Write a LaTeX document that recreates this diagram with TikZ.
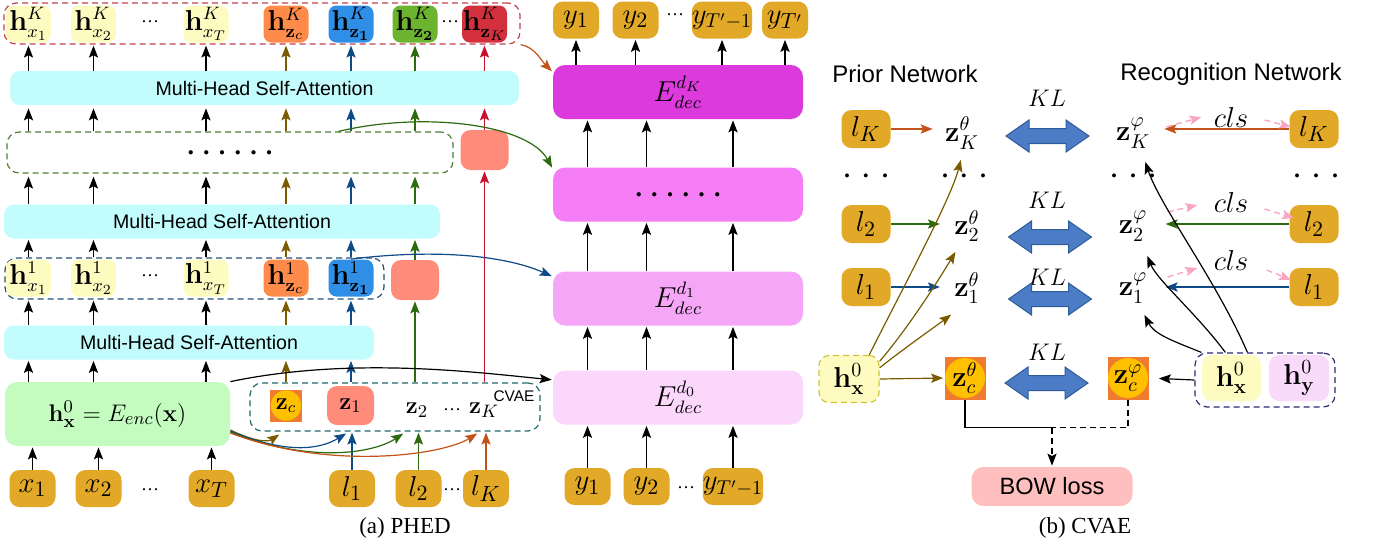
\documentclass[tikz,border=0pt]{standalone}
\usepackage{amsmath, amssymb}
\usepackage{bm}
\usepackage[no-math]{fontspec}
\setmainfont{Liberation Serif}
\setsansfont{Liberation Sans}
\usetikzlibrary{arrows.meta, calc}

\definecolor{hxc}{HTML}{FEFBC1}
\definecolor{orgc}{HTML}{FF8B4A}
\definecolor{bluc}{HTML}{2F8FE6}
\definecolor{grnc}{HTML}{6CB330}
\definecolor{redc}{HTML}{D3303E}
\definecolor{salc}{HTML}{FF8C7A}
\definecolor{mhc}{HTML}{C2FCFD}
\definecolor{encc}{HTML}{C4FCC0}
\definecolor{goldc}{HTML}{E2A827}
\definecolor{dKc}{HTML}{DC3ADC}
\definecolor{ddc}{HTML}{F57EF7}
\definecolor{d1c}{HTML}{F6A6F7}
\definecolor{d0c}{HTML}{FBD7FB}
\definecolor{zsqc}{HTML}{EE7B30}
\definecolor{zcirc}{HTML}{FFC000}
\definecolor{klc}{HTML}{4B7CC5}
\definecolor{kld}{HTML}{2E5C9A}
\definecolor{bowc}{HTML}{FFBFBF}
\definecolor{hyc}{HTML}{FADAFA}
\definecolor{brn}{HTML}{7A5B00}
\definecolor{blu}{HTML}{0F4A88}
\definecolor{grn}{HTML}{2D6A0E}
\definecolor{redl}{HTML}{C6102E}
\definecolor{orn}{HTML}{C2521A}
\definecolor{pnk}{HTML}{F8A6C4}
\definecolor{rowKc}{HTML}{C0404E}
\definecolor{lvlc}{HTML}{4E7E32}
\definecolor{row1c}{HTML}{234E78}
\definecolor{cvaec}{HTML}{20696B}
\definecolor{ydash}{HTML}{CFC53A}
\definecolor{pboxc}{HTML}{2D2873}

\tikzset{
  arr/.style={-{Stealth[length=6pt,width=4.6pt,inset=1.2pt]}, line width=0.6pt, shorten >=0.5pt},
  hbox/.style={rounded corners=4pt, inner sep=0pt, minimum width=22.5pt, minimum height=18.5pt, font=\fontsize{13.5}{13.5}\selectfont},
  gold/.style={rounded corners=5pt, fill=goldc, inner sep=0pt, minimum width=23pt, minimum height=18.5pt, font=\fontsize{15}{15}\selectfont},
  sal/.style={rounded corners=5pt, fill=salc, minimum width=24pt, minimum height=20pt, inner sep=0pt},
  mhsa/.style={rounded corners=5pt, fill=mhc, minimum height=17pt, inner sep=0pt, font=\sffamily\fontsize{9.8}{10}\selectfont},
  dbox/.style={dash pattern=on 3pt off 2pt, rounded corners=6pt, line width=0.6pt, inner sep=0pt},
  dec/.style={rounded corners=6pt, minimum width=125pt, minimum height=27pt, inner sep=0pt, font=\fontsize{13.5}{13.5}\selectfont},
  sdots/.style={inner sep=0pt, font=\fontsize{9}{9}\selectfont},
  tdots/.style={inner sep=0pt, font=\bfseries\fontsize{12}{12}\selectfont},
  zsq/.style={fill=zsqc, inner sep=0pt, path picture={\fill[zcirc] (path picture bounding box.center) circle[radius=#1];}},
  zlab/.style={inner sep=1pt, font=\fontsize{14.5}{14.5}\selectfont},
  lab/.style={inner sep=1pt, font=\fontsize{13}{13}\selectfont},
  net/.style={inner sep=0pt, font=\sffamily\fontsize{12}{12}\selectfont},
  capt/.style={inner sep=0pt, font=\fontsize{11.5}{12}\selectfont},
  klar/.style={fill=klc, draw=kld, line width=0.5pt},
  pinkarr/.style={-{Stealth[length=6pt,width=4.6pt,inset=1.2pt]}, pnk, dash pattern=on 3pt off 2pt, line width=0.7pt},
}

\newcommand{\lvldots}{{\bfseries\fontsize{13}{13}\selectfont .\hspace{4.6pt}.\hspace{4.6pt}.\hspace{4.6pt}.\hspace{4.6pt}.\hspace{4.6pt}.}}
\newcommand{\tridots}{.\hspace{6.5pt}.\hspace{6.5pt}.}
\newcommand{\klarrow}[1]{\path[klar] (#1) +(-41.5,0) -- +(-18.5,-16) -- +(-18.5,-7.5) -- +(18.5,-7.5) -- +(18.5,-16) -- +(41.5,0) -- +(18.5,16) -- +(18.5,7.5) -- +(-18.5,7.5) -- +(-18.5,16) -- cycle;}

\begin{document}
\begin{tikzpicture}[x=0.5pt, y=-0.5pt]
\useasboundingbox (0,0) rectangle (1375,548);

% (a) encoder stack
\node[dbox, draw=rowKc, minimum width=258pt, minimum height=20.5pt] (rowK) at (262,23.5) {};
\node[hbox, fill=hxc] (hK1) at (28.5,24) {$\mathbf{h}^K_{x_1}$};
\node[hbox, fill=hxc] (hK2) at (93.5,24) {$\mathbf{h}^K_{x_2}$};
\node[sdots] (dK1) at (150,22) {\ldots};
\node[hbox, fill=hxc] (hKT) at (206,24) {$\mathbf{h}^K_{x_T}$};
\node[hbox, fill=orgc] (hKc) at (286,24) {$\mathbf{h}^K_{\mathbf{z}_c}$};
\node[hbox, fill=bluc] (hKz1) at (351,24) {$\mathbf{h}^K_{\mathbf{z_1}}$};
\node[hbox, fill=grnc] (hKz2) at (415,24) {$\mathbf{h}^K_{\mathbf{z_2}}$};
\node[sdots] (dK2) at (450,22) {\ldots};
\node[hbox, fill=redc] (hKzK) at (484.5,24) {$\mathbf{h}^K_{\mathbf{z}_K}$};

\node[mhsa, minimum width=254.5pt] (mh1) at (264.5,88) {Multi-Head Self-Attention};
\node[dbox, draw=lvlc, minimum width=223pt, minimum height=20.5pt] (lvl) at (230,152.5) {\lvldots};
\node[sal] (sal2) at (484.5,150) {};
\node[mhsa, minimum width=218pt] (mh2) at (222,221.5) {Multi-Head Self-Attention};

\node[dbox, draw=row1c, minimum width=189.5pt, minimum height=20.5pt] (row1) at (194.5,278.5) {};
\node[hbox, fill=hxc] (h11) at (28.5,278) {$\mathbf{h}^1_{x_1}$};
\node[hbox, fill=hxc] (h12) at (93.5,278) {$\mathbf{h}^1_{x_2}$};
\node[sdots] (d11) at (150,276) {\ldots};
\node[hbox, fill=hxc] (h1T) at (206,278) {$\mathbf{h}^1_{x_T}$};
\node[hbox, fill=orgc] (h1c) at (286,278) {$\mathbf{h}^1_{\mathbf{z}_c}$};
\node[hbox, fill=bluc] (h1z) at (351,278) {$\mathbf{h}^1_{\mathbf{z_1}}$};
\node[sal] (sal1) at (415,280) {};
\node[mhsa, minimum width=185pt] (mh3) at (189,342.5) {Multi-Head Self-Attention};

\node[rounded corners=6pt, fill=encc, minimum width=112.5pt, minimum height=32pt, font=\fontsize{13}{13}\selectfont] (enc) at (117.5,414) {$\mathbf{h}^0_{\mathbf{x}} = E_{enc}(\mathbf{x})$};
\node[dbox, draw=cvaec, minimum width=145pt, minimum height=24pt] (cvae) at (395,407) {};
\node[inner sep=0pt, font=\sffamily\fontsize{7.7}{8}\selectfont] (cvl) at (514,396) {CVAE};
\node[zsq=7.6pt, minimum size=16pt, font=\fontsize{11.5}{11.5}\selectfont] (zcs) at (286,405.5) {$\mathbf{z}_c$};
\node[sal, minimum width=23.5pt, minimum height=19.5pt, font=\fontsize{13}{13}\selectfont] (z1s) at (350.5,405.5) {$\mathbf{z}_1$};
\node[inner sep=1pt, font=\fontsize{13}{13}\selectfont] (z2s) at (417,410) {$\mathbf{z}_2$};
\node[sdots] (dzs) at (452,410) {\ldots};
\node[inner sep=1pt, font=\fontsize{13}{13}\selectfont] (zKs) at (484,410) {$\mathbf{z}_K$};

\node[gold] (x1) at (32.5,488.5) {$x_1$};
\node[gold] (x2) at (98.5,488.5) {$x_2$};
\node[sdots] (dx) at (150,490) {\ldots};
\node[gold] (xT) at (211.5,488.5) {$x_T$};
\node[gold] (l1) at (352,488.5) {$l_1$};
\node[gold] (l2) at (418.5,488.5) {$l_2$};
\node[sdots] (dl) at (452,490) {\ldots};
\node[gold] (lK) at (486,488.5) {$l_K$};
\node[capt] (capa) at (405,528) {(a) PHED};

\foreach \n/\col in {hK1/black, hK2/black, hKT/black, hKc/brn, hKz1/blu, hKz2/grn, hKzK/redl}
  \draw[arr, \col] (mh1.north -| \n) -- (rowK.south -| \n);
\foreach \n/\col in {hK1/black, hK2/black, hKT/black, hKc/brn, hKz1/blu, hKz2/grn}
  \draw[arr, \col] (lvl.north -| \n) -- ([yshift=-1pt]mh1.south -| \n);
\draw[arr, redl] (sal2.north) -- ([yshift=-1pt]mh1.south -| sal2);
\foreach \n/\col in {hK1/black, hK2/black, hKT/black, hKc/brn, hKz1/blu, hKz2/grn}
  \draw[arr, \col] (mh2.north -| \n) -- ([yshift=-1pt]lvl.south -| \n);
\foreach \n/\col in {h11/black, h12/black, h1T/black, h1c/brn, h1z/blu}
  \draw[arr, \col] (row1.north -| \n) -- (mh2.south -| \n);
\draw[arr, grn] (sal1.north) -- (mh2.south -| sal1);
\foreach \n/\col in {h11/black, h12/black, h1T/black, h1c/brn, h1z/blu}
  \draw[arr, \col] (mh3.north -| \n) -- (row1.south -| \n);
\foreach \n in {h11, h12, h1T}
  \draw[arr] (enc.north -| \n) -- (mh3.south -| \n);
\foreach \n/\col in {h1c/brn, h1z/blu}
  \draw[arr, \col] (cvae.north -| \n) -- (mh3.south -| \n);
\draw[arr, grn] (cvae.north -| sal1) -- (sal1.south);
\draw[arr, redl] (cvae.north -| sal2) -- (sal2.south);
\foreach \n in {x1, x2, xT}
  \draw[arr] (\n.north) -- (enc.south -| \n);
\foreach \n/\col in {l1/blu, l2/grn, lK/orn}
  \draw[arr, \col] (\n.north) -- (cvae.south -| \n);

\coordinate (tc) at (280,434);
\coordinate (t1) at (347,433);
\coordinate (t2) at (404,433);
\coordinate (tK) at (478,433);
\draw[arr, brn] ([yshift=-8pt]enc.east) .. controls +(25,12) and +(-12,8) .. (tc);
\draw[arr, blu] ([yshift=-8.5pt]enc.east) .. controls +(60,25) and +(-25,15) .. (t1);
\draw[arr, grn] ([yshift=-9pt]enc.east) .. controls +(80,32) and +(-30,20) .. (t2);
\draw[arr, orn] ([yshift=-9.5pt]enc.east) .. controls +(100,38) and +(-35,22) .. (tK);

% (a) decoder stack
\node[gold] (yt1) at (576,20) {$y_1$};
\node[gold] (yt2) at (635.5,20) {$y_2$};
\node[sdots] (dyt) at (675,15) {\ldots};
\node[gold, minimum width=29pt, font=\fontsize{14}{14}\selectfont] (ytT1) at (722,20) {$y_{T'-1}$};
\node[gold] (ytT) at (785,20) {$y_{T'}$};
\node[dec, fill=dKc] (edK) at (678,92) {$E^{d_K}_{dec}$};
\node[dec, fill=ddc] (edd) at (678,194.5) {\lvldots};
\node[dec, fill=d1c] (ed1) at (678,298.5) {$E^{d_1}_{dec}$};
\node[dec, fill=d0c] (ed0) at (678,397.5) {$E^{d_0}_{dec}$};
\node[gold] (yb1) at (587.5,486.5) {$y_1$};
\node[gold] (yb2) at (646.5,486.5) {$y_2$};
\node[sdots] (dyb) at (686,488) {\ldots};
\node[gold, minimum width=29pt, font=\fontsize{14}{14}\selectfont] (ybT) at (733,486.5) {$y_{T'-1}$};

\foreach \n in {yt1, yt2, ytT1, ytT}
  \draw[arr] (edK.north -| \n) -- (\n.south);
\foreach \n in {yb1, yb2, ybT} {
  \draw[arr] (\n.north) -- (ed0.south -| \n);
  \draw[arr] (ed0.north -| \n) -- (ed1.south -| \n);
  \draw[arr] (ed1.north -| \n) -- (edd.south -| \n);
  \draw[arr] (edd.north -| \n) -- (edK.south -| \n);
}
\draw[arr] (enc.north east) .. controls +(120,-25) and +(-80,-8) .. (ed0.172);
\draw[arr, blu] (h1z.north) .. controls +(80,-10) and +(-50,-22) .. ([yshift=11pt]ed1.west);
\draw[arr, grn] (lvl.11) .. controls +(83,-20) and +(-25,-45) .. ([yshift=13pt]edd.west);
\draw[arr, orn] (rowK.south east) .. controls +(15,3) and +(-12,-12) .. ([yshift=10pt]edK.west);

% (b) CVAE
\node[net] (prior) at (905,74) {Prior Network};
\node[net] (recog) at (1231,74) {Recognition Network};

\node[gold, minimum width=24.5pt, minimum height=19pt] (lKl) at (866,129) {$l_K$};
\node[gold, minimum width=24.5pt, minimum height=19pt] (l2l) at (866,224) {$l_2$};
\node[gold, minimum width=24.5pt, minimum height=19pt] (l1l) at (866,287) {$l_1$};
\node[gold, minimum width=24.5pt, minimum height=19pt] (lKr) at (1314,129) {$l_K$};
\node[gold, minimum width=24.5pt, minimum height=19pt] (l2r) at (1314,224) {$l_2$};
\node[gold, minimum width=24.5pt, minimum height=19pt] (l1r) at (1314,287) {$l_1$};

\node[zlab] (zKp) at (962,133) {$\mathbf{z}^{\theta}_K$};
\node[zlab] (z2p) at (967,226) {$\mathbf{z}^{\theta}_2$};
\node[zlab] (z1p) at (967,288) {$\mathbf{z}^{\theta}_1$};
\node[zlab] (zKq) at (1133,133) {$\mathbf{z}^{\varphi}_K$};
\node[zlab] (z2q) at (1133,226) {$\mathbf{z}^{\varphi}_2$};
\node[zlab] (z1q) at (1133,288) {$\mathbf{z}^{\varphi}_1$};

\node[tdots] (pd1) at (866,176) {\tridots};
\node[tdots] (pd2) at (964,176) {\tridots};
\node[tdots] (pd3) at (1133,176) {\tridots};
\node[tdots] (pd4) at (1316,176) {\tridots};

\node[lab] (kl1) at (1047,98) {$KL$};
\node[lab] (kl2) at (1047,200) {$KL$};
\node[lab] (kl3) at (1047,277) {$KL$};
\node[lab] (kl4) at (1047,352) {$KL$};
\node[zlab] (cls1) at (1231,117) {$cls$};
\node[zlab] (cls2) at (1231,202) {$cls$};
\node[zlab] (cls3) at (1231,260) {$cls$};

\node[rounded corners=5pt, fill=hxc, draw=ydash, dash pattern=on 3pt off 2pt, line width=0.6pt, minimum width=30pt, minimum height=23.5pt, inner sep=0pt, font=\fontsize{14}{14}\selectfont] (hx0l) at (849,379) {$\mathbf{h}^0_{\mathbf{x}}$};
\node[zsq=10pt, minimum width=20.5pt, minimum height=21.5pt, font=\fontsize{14}{14}\selectfont] (zcp) at (965,378) {$\mathbf{z}^{\theta}_c$};
\node[zsq=10pt, minimum width=20.5pt, minimum height=21.5pt, font=\fontsize{14}{14}\selectfont] (zcq) at (1128,378) {$\mathbf{z}^{\varphi}_c$};
\node[dbox, draw=pboxc, minimum width=70pt, minimum height=27pt] (pbox) at (1265,380) {};
\node[rounded corners=5pt, fill=hxc, minimum width=29.5pt, minimum height=23pt, inner sep=0pt, font=\fontsize{14}{14}\selectfont] (hx0r) at (1231.5,378) {$\mathbf{h}^0_{\mathbf{x}}$};
\node[rounded corners=5pt, fill=hyc, minimum width=30pt, minimum height=23pt, inner sep=0pt, font=\fontsize{14}{14}\selectfont] (hy0) at (1299,378) {$\mathbf{h}^0_{\mathbf{y}}$};
\node[rounded corners=6pt, fill=bowc, minimum width=80.5pt, minimum height=19.5pt, inner sep=0pt, font=\sffamily\fontsize{11.8}{12}\selectfont] (bow) at (1052,486.5) {BOW loss};
\node[capt] (capb) at (1085,528) {(b) CVAE};

\klarrow{$(zKp)!.5!(zKq)+(0,3)$}
\klarrow{$(z2p)!.5!(z2q)+(0,11)$}
\klarrow{$(z1p)!.5!(z1q)+(0,11)$}
\klarrow{$(zcp)!.5!(zcq)+(0,5)$}

\draw[arr, orn, shorten >=5pt] (lKl.east) -- (lKl.east -| zKp.west);
\draw[arr, grn, shorten >=6pt] (l2l.east) -- (l2l.east -| z2p.west);
\draw[arr, blu, shorten >=6pt] (l1l.east) -- (l1l.east -| z1p.west);
\draw[arr, orn, shorten >=6pt] (lKr.west) -- (lKr.west -| zKq.east);
\draw[arr, grn, shorten >=8pt] (l2r.west) -- (l2r.west -| z2q.east);
\draw[arr, blu, shorten >=8pt] (l1r.west) -- (l1r.west -| z1q.east);

\draw[pinkarr] ([shift={(7pt,3pt)}]zKq.east) -- ([shift={(-5pt,0pt)}]cls1.west);
\draw[pinkarr] ([shift={(7pt,-1.5pt)}]cls1.east) -- ([shift={(1pt,1pt)}]lKr.west);
\draw[pinkarr] ([shift={(9pt,7pt)}]z2q.east) -- ([shift={(-7pt,-1.5pt)}]cls2.west);
\draw[pinkarr] ([shift={(7pt,-3.5pt)}]cls2.east) -- ([shift={(2.5pt,3pt)}]l2r.west);
\draw[pinkarr] ([shift={(9pt,5.5pt)}]z1q.east) -- ([shift={(-7pt,-4pt)}]cls3.west);
\draw[pinkarr] ([shift={(8pt,-5pt)}]cls3.east) -- ([shift={(1pt,3.5pt)}]l1r.west);

\draw[arr, brn] (hx0l.50) .. controls +(30,-60) and +(-10,40) .. ([shift={(-0.5pt,-13pt)}]zKp.center);
\draw[arr, brn] (hx0l.30) .. controls +(30,-35) and +(-15,25) .. ([shift={(-5.5pt,-12.5pt)}]z2p.center);
\draw[arr, brn] (hx0l.20) .. controls +(25,-20) and +(-20,15) .. ([shift={(-7.5pt,-13pt)}]z1p.center);
\draw[arr, brn] (hx0l.east) -- (zcp.west);

\draw[arr] ([xshift=3.5pt]pbox.north west) .. controls +(-30,-12) and +(10,20) .. ([shift={(5.5pt,-13pt)}]z1q.center);
\draw[arr] ([xshift=15.5pt]pbox.north west) .. controls +(-30,-40) and +(10,25) .. ([shift={(7pt,-14.5pt)}]z2q.center);
\draw[arr] ([xshift=26.5pt]pbox.north west) .. controls +(-30,-70) and +(15,45) .. ([shift={(6pt,-14pt)}]zKq.center);
\draw[arr, shorten >=5pt] (pbox.west) -- (zcq.east);

\coordinate (bowj) at ($(bow.north)+(0,-39)$);
\draw[line width=0.6pt] (zcp.south) |- (bowj);
\draw[line width=0.6pt, dash pattern=on 3pt off 2pt] (zcq.south) |- (bowj);
\draw[arr, dash pattern=on 3pt off 2pt] (bowj) -- (bow.north);
\end{tikzpicture}
\end{document}
